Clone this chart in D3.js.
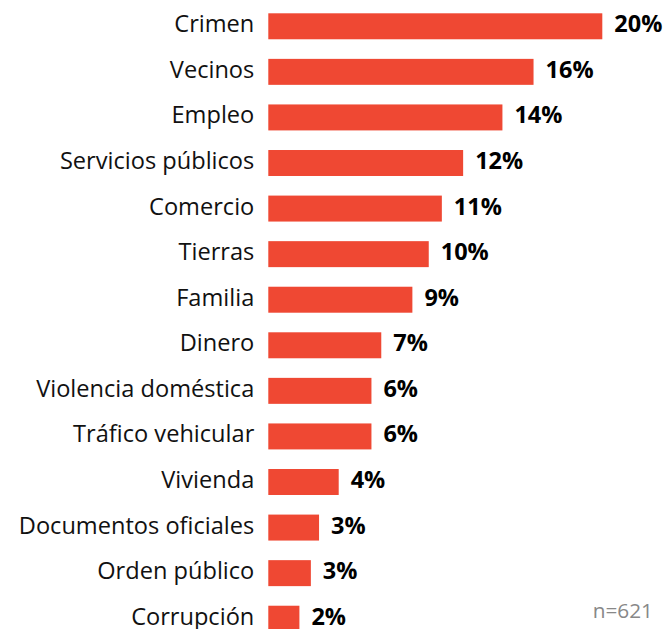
<!doctype html>
<html>
<head>
<meta charset="utf-8">
<script src="https://d3js.org/d3.v7.min.js"></script>
<style>
  body { margin: 0; background: #fff; }
  text { font-family: "Open Sans", "Noto Sans", sans-serif; }
</style>
</head>
<body>
<svg id="chart"></svg>
<script>
// categories and shares (%)
var categories = ["Crimen", "Vecinos", "Empleo", "Servicios públicos", "Comercio", "Tierras",
  "Familia", "Dinero", "Violencia doméstica", "Tráfico vehicular", "Vivienda",
  "Documentos oficiales", "Orden público", "Corrupción"]
var values = [20.4, 16.2, 14.3, 11.9, 10.6, 9.8, 8.8, 6.9, 6.3, 6.3, 4.3, 3.1, 2.6, 1.9]
var sampleNote = "n=621"

var width = 666, height = 629
var svg = d3.select("#chart").attr("width", width).attr("height", height)

var y = d3.scaleBand().domain(categories).range([13.3, 631.7]).paddingInner(0.43).paddingOuter(0)
var x = d3.scaleLinear().domain([0, 20.4]).range([268.3, 602.3])

var rows = svg.selectAll("g.row").data(categories).enter().append("g").attr("class", "row")

rows.append("rect")
  .attr("x", x(0))
  .attr("y", function(d) { return y(d) })
  .attr("width", function(d, i) { return x(values[i]) - x(0) })
  .attr("height", y.bandwidth())
  .attr("fill", "#ef4833")

// baseline sits about 6px under the bar centre
rows.append("text")
  .attr("x", x(0) - 14)
  .attr("y", function(d) { return y(d) + y.bandwidth() / 2 + 6 })
  .attr("text-anchor", "end")
  .attr("font-size", 23.6)
  .attr("fill", "#111")
  .text(function(d) { return d })

rows.append("text")
  .attr("x", function(d, i) { return x(values[i]) + 12 })
  .attr("y", function(d) { return y(d) + y.bandwidth() / 2 + 6 })
  .attr("font-size", 23.5)
  .attr("font-weight", "bold")
  .attr("fill", "#000")
  .text(function(d, i) { return Math.round(values[i]) + "%" })

svg.append("text")
  .attr("x", 653)
  .attr("y", 618)
  .attr("text-anchor", "end")
  .attr("font-size", 20.8)
  .attr("fill", "#888")
  .text(sampleNote)
</script>
</body>
</html>
